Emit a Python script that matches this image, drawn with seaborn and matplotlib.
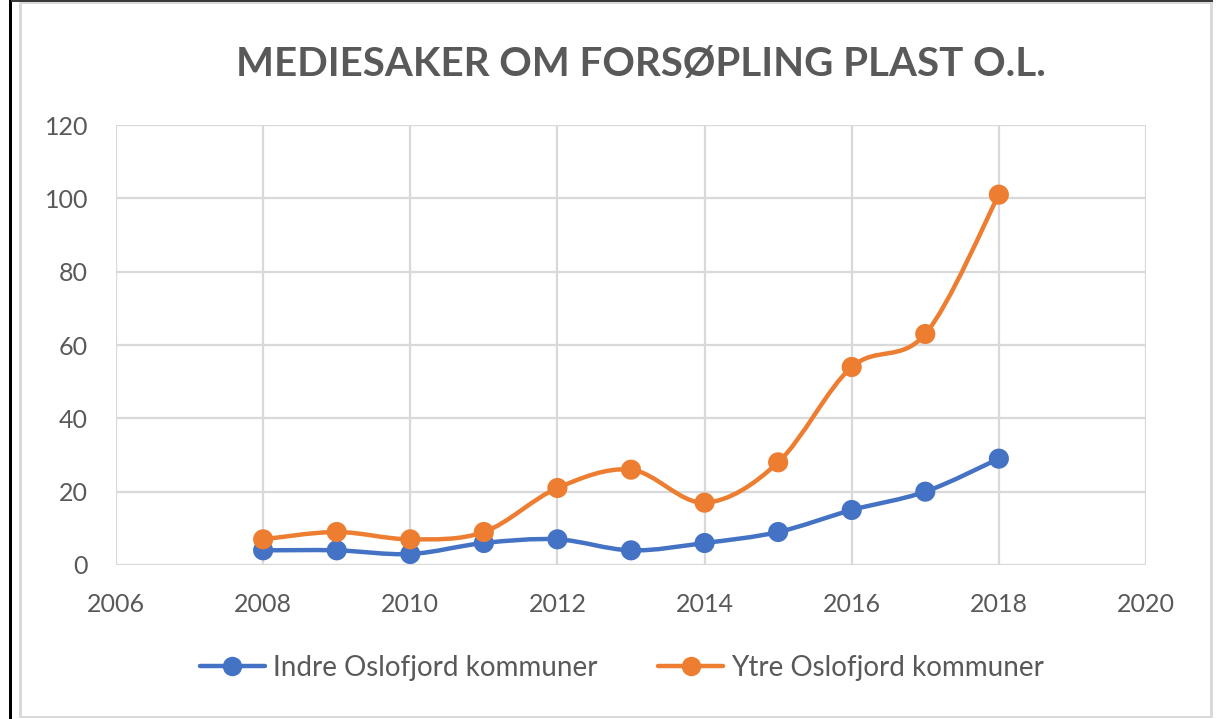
import numpy as np
import pandas as pd
import matplotlib
matplotlib.use("Agg")
import matplotlib.pyplot as plt
from matplotlib.path import Path
from matplotlib.patches import PathPatch, Rectangle
from matplotlib.lines import Line2D
import seaborn as sns

# Data
years = [2008, 2009, 2010, 2011, 2012, 2013, 2014, 2015, 2016, 2017, 2018]
indre = [4, 4, 3, 6, 7, 4, 6, 9, 15, 20, 29]
ytre = [7, 9, 7, 9, 21, 26, 17, 28, 54, 63, 101]
series_names = ["Indre Oslofjord kommuner", "Ytre Oslofjord kommuner"]
series_colors = ["#4472C4", "#ED7D31"]
title = "MEDIESAKER OM FORSØPLING PLAST O.L."
x_ticks = [2006, 2008, 2010, 2012, 2014, 2016, 2018, 2020]
y_ticks = [0, 20, 40, 60, 80, 100, 120]

sns.set_theme(style="white")
plt.rcParams["font.family"] = ["Lato", "DejaVu Sans"]

TEXT = "#595959"
GRID = "#D9D9D9"

W, H = 1217, 719
fig = plt.figure(figsize=(W / 100, H / 100), dpi=100)
fig.patch.set_facecolor("white")


def px(x0, y0, x1, y1):
    return (x0 / W, 1 - y1 / H, (x1 - x0) / W, (y1 - y0) / H)


# Frame lines around the chart object
for (x0, y0, x1, y1), c in [
    ((9, 0, 12, H), "black"),
    ((11, 0, 1213, 1.5), "#3a3a3a"),
    ((19, 2, 22, 718), GRID),
    ((1210, 2, 1213, 718), GRID),
    ((19, 2, 1213, 4), GRID),
    ((19, 716, 1213, 718), GRID),
]:
    x, y, w, h = px(x0, y0, x1, y1)
    fig.patches.append(Rectangle((x, y), w, h, transform=fig.transFigure,
                                 facecolor=c, edgecolor="none", zorder=0))

ax = fig.add_axes([116 / W, 1 - 565 / H, (1146 - 116) / W, (565 - 125) / H])
ax.set_xlim(2006, 2020)
ax.set_ylim(0, 120)
ax.set_xticks(x_ticks)
ax.set_yticks(y_ticks)
ax.grid(True, color=GRID, linewidth=1.6)
for s in ax.spines.values():
    s.set_visible(False)
ax.tick_params(axis="both", length=0, labelsize=18, labelcolor=TEXT)
ax.tick_params(axis="y", pad=20)
ax.tick_params(axis="x", pad=20)
ax.set_axisbelow(True)


def smooth_path(xs, ys):
    """Cubic Bezier path through the points (Catmull-Rom style smoothing)."""
    pts = np.column_stack([xs, ys]).astype(float)
    n = len(pts)
    verts = [pts[0]]
    codes = [Path.MOVETO]
    for i in range(n - 1):
        p0 = pts[max(i - 1, 0)]
        p1 = pts[i]
        p2 = pts[i + 1]
        p3 = pts[min(i + 2, n - 1)]
        c1 = p1 + (p2 - p0) / 6.0
        c2 = p2 - (p3 - p1) / 6.0
        verts += [c1, c2, p2]
        codes += [Path.CURVE4] * 3
    return Path(verts, codes)


df = pd.DataFrame({"year": years * 2,
                   "value": indre + ytre,
                   "series": [series_names[0]] * len(years) + [series_names[1]] * len(years)})

for name, color, vals in zip(series_names, series_colors, [indre, ytre]):
    patch = PathPatch(smooth_path(years, vals), facecolor="none", edgecolor=color,
                      linewidth=3.2, capstyle="round", joinstyle="round", zorder=3)
    ax.add_patch(patch)

sns.scatterplot(data=df, x="year", y="value", hue="series", palette=series_colors,
                s=210, edgecolor="none", linewidth=0, legend=False, ax=ax, zorder=4)
ax.set_xlabel("")
ax.set_ylabel("")

# Bottom axis line
ax.axhline(0, color=GRID, linewidth=1.8, zorder=2)

handles = [Line2D([0], [0], color=c, linewidth=3.2, marker="o", markersize=14,
                  markeredgewidth=0) for c in series_colors]
fig.legend(handles, series_names, loc="center", bbox_to_anchor=(622 / W, 1 - 668 / H),
           ncol=2, frameon=False, fontsize=20, labelcolor=TEXT, handlelength=2.34,
           handletextpad=0.29, columnspacing=2.2)

fig.text(641 / W, 1 - 65 / H, title, ha="center", va="center", fontsize=29,
         fontweight="bold", color=TEXT)

fig.savefig("out.png", dpi=100)
